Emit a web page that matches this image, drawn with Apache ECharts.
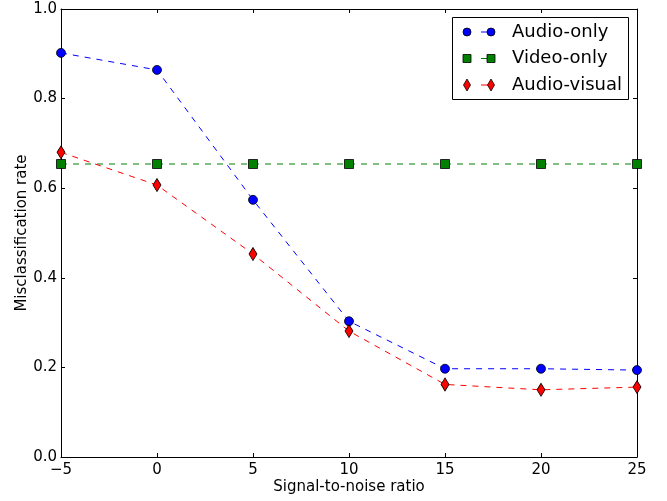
<!DOCTYPE html>
<html>
<head>
<meta charset="utf-8">
<script src="https://cdn.jsdelivr.net/npm/echarts@6/dist/echarts.min.js"></script>
<style>
  html, body { margin: 0; padding: 0; background: #fff; }
  #chart { width: 667px; height: 501px; }
</style>
</head>
<body>
<div id="chart"></div>
<script>
// data
var snr = [-5, 0, 5, 10, 15, 20, 25];
var audioOnly = [0.902, 0.864, 0.574, 0.303, 0.197, 0.197, 0.194];
var videoOnly = [0.654, 0.654, 0.654, 0.654, 0.654, 0.654, 0.654];
var audioVisual = [0.680, 0.607, 0.453, 0.281, 0.162, 0.150, 0.156];
var seriesNames = ["Audio-only", "Video-only", "Audio-visual"];

var font = "DejaVu Sans";
var diamond = "path://M5,0 L10,10 L5,20 L0,10 Z";

function pairs(ys) {
  var out = [];
  for (var i = 0; i < snr.length; i++) out.push([snr[i], ys[i]]);
  return out;
}

function minus(v) {
  return String(v).replace("-", "\u2212");
}

var hiddenAxis = {
  axisLine: { show: true, onZero: false, lineStyle: { color: "#000", width: 1 } },
  axisTick: { show: true, inside: true, length: 4, lineStyle: { color: "#000" } },
  axisLabel: { show: false },
  splitLine: { show: false }
};

// legend, drawn by hand to get the matplotlib "marker - marker" look
var legendRows = [
  { name: seriesNames[0], color: "#0000ff", shape: "circle" },
  { name: seriesNames[1], color: "#008000", shape: "rect" },
  { name: seriesNames[2], color: "#ff0000", shape: "diamond" }
];
function marker(shape, color, cx, cy) {
  var style = { fill: color, stroke: "#000", lineWidth: 0.8 };
  if (shape === "circle") return { type: "circle", shape: { cx: cx, cy: cy, r: 4 }, style: style };
  if (shape === "rect") return { type: "rect", shape: { x: cx - 4, y: cy - 4, width: 8, height: 8 }, style: style };
  return { type: "polygon", shape: { points: [[cx, cy - 6], [cx + 3.5, cy], [cx, cy + 6], [cx - 3.5, cy]] }, style: style };
}
var legendGraphic = [{
  type: "rect",
  shape: { x: 452.5, y: 17.5, width: 176, height: 82 },
  style: { fill: "#fff", stroke: "#000", lineWidth: 1 },
  z: 10
}];
legendRows.forEach(function (r, i) {
  var cy = 32 + i * 26.5;
  legendGraphic.push({ type: "line", shape: { x1: 481, y1: cy, x2: 491, y2: cy }, style: { stroke: r.color, lineWidth: 1 }, z: 11 });
  var m1 = marker(r.shape, r.color, 467, cy); m1.z = 12; legendGraphic.push(m1);
  var m2 = marker(r.shape, r.color, 491, cy); m2.z = 12; legendGraphic.push(m2);
  legendGraphic.push({
    type: "text", x: 512, y: cy, z: 12,
    style: { text: r.name, fill: "#000", font: "18px " + font, verticalAlign: "middle" }
  });
});

var chart = echarts.init(document.getElementById("chart"));
chart.setOption({
  backgroundColor: "#fff",
  animation: false,
  textStyle: { fontFamily: font },
  grid: { left: 61, right: 30, top: 9, bottom: 44, containLabel: false, outerBoundsMode: "none" },
  xAxis: [{
    type: "value", min: -5, max: 25, interval: 5,
    name: "Signal-to-noise ratio", nameLocation: "middle", nameGap: 23, nameMoveOverlap: false,
    nameTextStyle: { fontSize: 15, color: "#000", fontFamily: font },
    axisLine: { show: true, onZero: false, lineStyle: { color: "#000", width: 1 } },
    axisTick: { show: true, inside: true, length: 4, lineStyle: { color: "#000" } },
    axisLabel: { fontSize: 15, color: "#000", margin: 6, formatter: minus, fontFamily: font },
    splitLine: { show: false }
  }, Object.assign({ type: "value", position: "top", min: -5, max: 25, interval: 5 }, hiddenAxis)],
  yAxis: [{
    type: "value", min: 0, max: 1, interval: 0.2,
    name: "Misclassification rate", nameLocation: "middle", nameGap: 31, nameMoveOverlap: false,
    nameTextStyle: { fontSize: 15, color: "#000", fontFamily: font },
    axisLine: { show: true, onZero: false, lineStyle: { color: "#000", width: 1 } },
    axisTick: { show: true, inside: true, length: 4, lineStyle: { color: "#000" } },
    axisLabel: { fontSize: 15, color: "#000", margin: 4, formatter: function (v) { return v.toFixed(1); }, fontFamily: font },
    splitLine: { show: false }
  }, Object.assign({ type: "value", position: "right", min: 0, max: 1, interval: 0.2 }, hiddenAxis)],
  series: [{
    name: seriesNames[0], type: "line", data: pairs(audioOnly),
    symbol: "circle", symbolSize: 9,
    lineStyle: { color: "#0000ff", width: 1, type: [6, 6] },
    itemStyle: { color: "#0000ff", borderColor: "#000", borderWidth: 0.8 },
    z: 3
  }, {
    name: seriesNames[1], type: "line", data: pairs(videoOnly),
    symbol: "rect", symbolSize: 9,
    lineStyle: { color: "#008000", width: 1, type: [6, 6] },
    itemStyle: { color: "#008000", borderColor: "#000", borderWidth: 0.8 },
    z: 2
  }, {
    name: seriesNames[2], type: "line", data: pairs(audioVisual),
    symbol: diamond, symbolSize: [8, 13],
    lineStyle: { color: "#ff0000", width: 1, type: [6, 6] },
    itemStyle: { color: "#ff0000", borderColor: "#000", borderWidth: 0.8 },
    z: 4
  }],
  graphic: legendGraphic
});
</script>
</body>
</html>
